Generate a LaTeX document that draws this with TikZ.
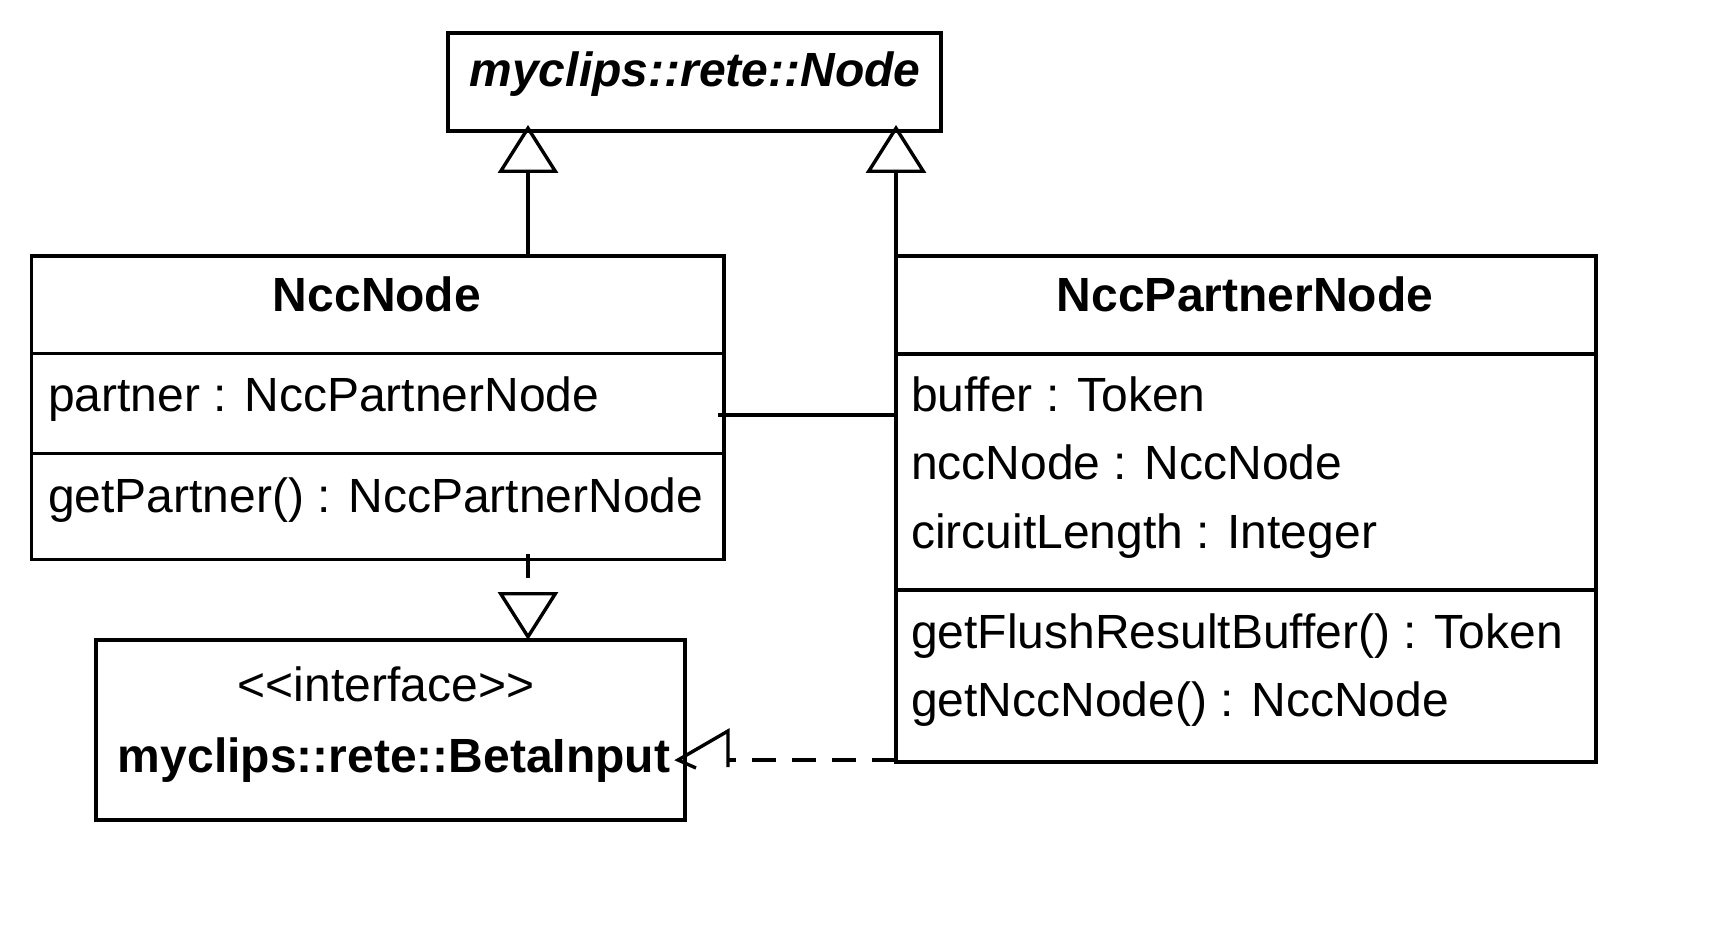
\documentclass[tikz,border=0pt]{standalone}
\usepackage{fontspec}
\setmainfont{Liberation Sans}
\usetikzlibrary{arrows.meta}
\begin{document}
\begin{tikzpicture}[x=0.5pt,y=-0.5pt,line width=1.7pt,
  box/.style={draw,rectangle,inner sep=0pt,outer sep=0pt},
  txt/.style={inner sep=0pt,outer sep=0pt,font=\fontsize{24}{28}\selectfont},
  lbl/.style={txt,anchor=base west},
  ttl/.style={txt,anchor=base,font=\fontsize{24}{28}\selectfont\bfseries},
  gen/.style={-{Triangle[open,length=24pt,width=30pt]},shorten >=-3pt},
  realdash/.style={dash pattern=on 12pt off 8pt},
  realz/.style={realdash,-{Triangle[open,length=24pt,width=30pt]}}]
\fill[white] (0,0) rectangle (1716,940);
\useasboundingbox (0,0) rectangle (1716,940);

% boxes
\node[box,minimum width=246.5pt,minimum height=49pt] (top) at (694.5,82) {};
\node[box,minimum width=346.25pt,minimum height=151.65pt] (ncc) at (377.75,407.65) {};
\node[box,minimum width=350pt,minimum height=253pt] (pn) at (1246,509) {};
\node[box,minimum width=294.5pt,minimum height=90pt] (bi) at (390.5,730) {};

% dividers
\draw (ncc.west |- 0,353.3) -- (ncc.east |- 0,353.3);
\draw (ncc.west |- 0,453.3) -- (ncc.east |- 0,453.3);
\draw (pn.west |- 0,354) -- (pn.east |- 0,354);
\draw (pn.west |- 0,590) -- (pn.east |- 0,590);

% texts
\node[txt,anchor=base,font=\fontsize{24}{28}\selectfont\bfseries\itshape] (ttop) at (695,87) {myclips::rete::Node};
\node[ttl] (tncc) at (377,311.7) {NccNode};
\node[lbl] (a1) at (48,411.7) {partner : NccPartnerNode};
\node[lbl] (m1) at (48,512) {getPartner() : NccPartnerNode};
\node[ttl] (tpn) at (1245,312) {NccPartnerNode};
\node[lbl] (b1) at (911,412) {buffer : Token};
\node[lbl] (b2) at (911,480) {nccNode : NccNode};
\node[lbl] (b3) at (911,548) {circuitLength : Integer};
\node[lbl] (c1) at (911,648) {getFlushResultBuffer() : Token};
\node[lbl] (c2) at (911,716) {getNccNode() : NccNode};
\node[txt,anchor=base] (st) at (386,701) {<{}<interface>{}>};
\node[ttl] (tbi) at (394,772) {myclips::rete::BetaInput};

% connectors
\coordinate (gxl) at (528,0);
\coordinate (ay) at (0,415);
\coordinate (rbase) at (728,760);
\coordinate (rtip) at (678,760);
\coordinate (rup) at (728,731);
\coordinate (rdn) at (728,767);
\coordinate (rlo) at (696,768);

\draw[gen] (ncc.north -| gxl) -- (top.south -| gxl);
\draw[gen] (pn.north west) -- (top.south -| pn.north west);
\draw[shorten <=-3pt] (ncc.east |- ay) -- (pn.west |- ay);
\draw[realz,shorten <=-2.5pt] (ncc.south -| gxl) -- (bi.north -| gxl);
\draw[realdash] (pn.west |- rbase) -- (rbase);
\draw (rlo) -- (rtip) -- (rup) -- (rdn);
\end{tikzpicture}
\end{document}
